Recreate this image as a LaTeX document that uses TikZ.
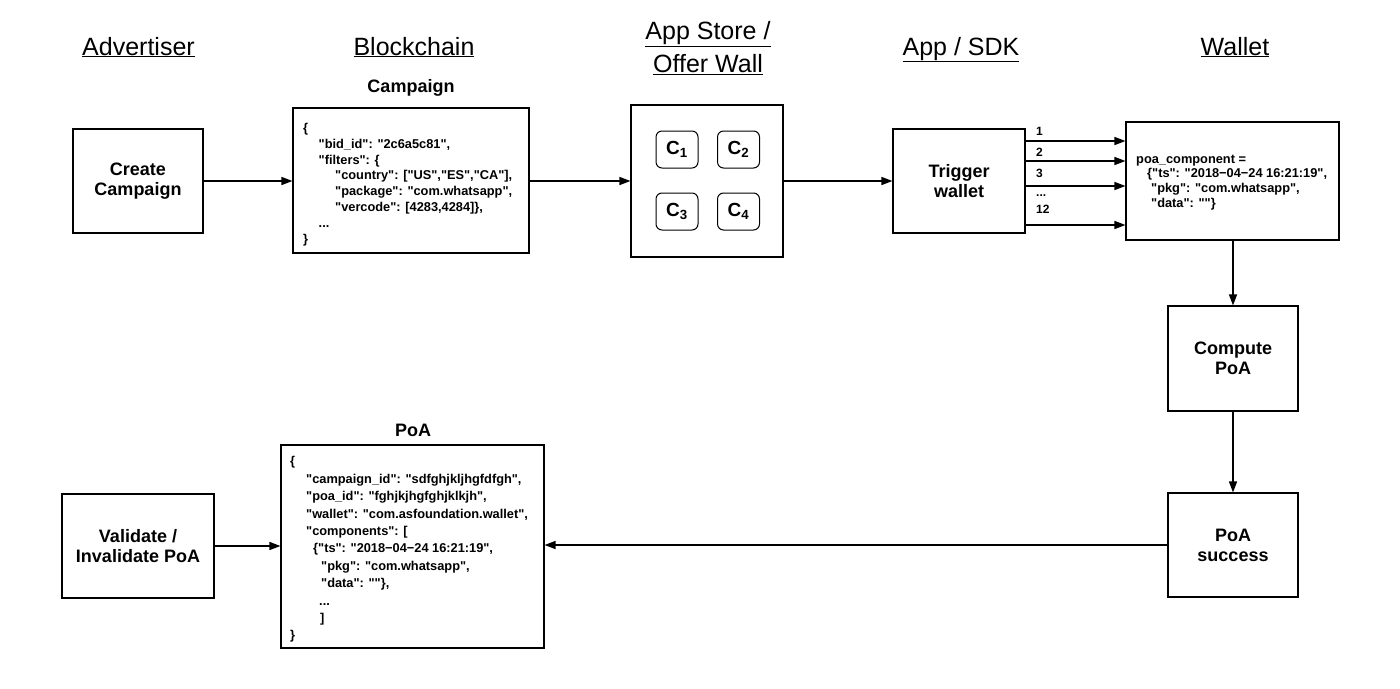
\documentclass[tikz,border=0pt]{standalone}
\usepackage{fontspec}
\setmainfont{Liberation Sans}
\newfontfamily\codefont{Liberation Sans}
\usetikzlibrary{arrows.meta,calc}
\begin{document}
\begin{tikzpicture}[x=1pt,y=-1pt,
  box/.style={draw, line width=1.1pt, fill=white, inner sep=0pt, align=center,
    font=\bfseries\fontsize{18}{20}\selectfont},
  cbox/.style={draw, line width=1pt, rounded corners=6pt, minimum width=42pt,
    minimum height=37pt, inner sep=0pt, font=\bfseries\fontsize{19}{20}\selectfont},
  head/.style={font=\fontsize{25}{33}\selectfont, inner sep=0pt, align=center},
  title/.style={font=\bfseries\fontsize{18}{20}\selectfont, inner sep=0pt},
  code/.style={font=\codefont\bfseries\fontsize{12.8}{15.86}\selectfont, inner sep=0pt, align=left, anchor=west},
  arr/.style={line width=1.4pt, -{Triangle[length=11pt,width=8pt]}},
  lbl/.style={font=\bfseries\fontsize{12}{14}\selectfont, inner sep=0pt, anchor=base west}
]
\fill[white] (0,0) rectangle (1400,688);
\useasboundingbox (0,0) rectangle (1400,688);

% headings
\node[head, anchor=base] (hadv) at (138.5,55) {\underline{Advertiser}};
\node[head, anchor=base] (hblk) at (414,55) {\underline{Blockchain}};
\node[head, anchor=north] (hstore) at (708,21) {\underline{App Store /}\\\underline{Offer Wall}};
\node[head, anchor=base] (hsdk) at (961,55) {\underline{App / SDK}};
\node[head, anchor=base] (hwal) at (1235,55) {\underline{Wallet}};

% titles
\node[title] (tcamp) at (411,88) {Campaign};
\node[title] (tpoa) at (413,430) {PoA};

% boxes
\node[box, minimum width=130pt, minimum height=104pt] (create) at (138,181) {Create\\Campaign};
\node[box, minimum width=236pt, minimum height=145pt] (campaign) at (411,180.5) {};
\node[box, minimum width=152pt, minimum height=152pt] (store) at (707,181) {};
\node[cbox] (c1) at (677,149.5) {C\textsubscript{1}};
\node[cbox] (c2) at (738.5,149.5) {C\textsubscript{2}};
\node[cbox] (c3) at (677,211.5) {C\textsubscript{3}};
\node[cbox] (c4) at (738.5,211.5) {C\textsubscript{4}};
\node[box, minimum width=132pt, minimum height=104pt] (trigger) at (959,181) {Trigger\\wallet};
\node[box, minimum width=213pt, minimum height=118pt] (wallet) at (1232.5,181) {};
\node[box, minimum width=130pt, minimum height=105pt] (compute) at (1233,358.5) {Compute\\PoA};
\node[box, minimum width=130pt, minimum height=104pt] (success) at (1233,545) {PoA\\success};
\node[box, minimum width=263pt, minimum height=203pt] (poabox) at (412.5,546.5) {};
\node[box, minimum width=152pt, minimum height=104pt] (validate) at (138,546) {Validate /\\Invalidate PoA};

% code texts
\node[code] (campcode) at (303,184.5) {\{\\
\hspace*{15.5pt}"bid\_id": "2c6a5c81",\\
\hspace*{15.5pt}"filters": \{\\
\hspace*{32pt}"country": ["US","ES","CA"],\\
\hspace*{32pt}"package": "com.whatsapp",\\
\hspace*{32pt}"vercode": [4283,4284]\},\\
\hspace*{15.5pt}...\\
\}};

\node[code, font=\codefont\bfseries\fontsize{12.8}{14.7}\selectfont] (walcode) at (1136,182.5) {poa\_component =\\
\hspace*{11pt}\{"ts": "2018−04−24 16:21:19",\\
\hspace*{15pt}"pkg": "com.whatsapp",\\
\hspace*{15pt}"data": ""\}};

\node[code, font=\codefont\bfseries\fontsize{12.8}{17.4}\selectfont] (poacode) at (290,549.5) {\{\\
\hspace*{16pt}"campaign\_id": "sdfghjkljhgfdfgh",\\
\hspace*{16pt}"poa\_id": "fghjkjhgfghjklkjh",\\
\hspace*{16pt}"wallet": "com.asfoundation.wallet",\\
\hspace*{16pt}"components": [\\
\hspace*{23pt}\{"ts": "2018−04−24 16:21:19",\\
\hspace*{31pt}"pkg": "com.whatsapp",\\
\hspace*{31pt}"data": ""\},\\
\hspace*{29pt}...\\
\hspace*{30pt}]\\
\}};

% connectors
\draw[arr] (create.east) -- (create.east -| campaign.west);
\draw[arr] (campaign.east |- store.west) -- (store.west);
\draw[arr] (store.east) -- (store.east -| trigger.west);
\draw[arr] ([yshift=40pt]trigger.east) -- ([yshift=40pt]wallet.west);
\draw[arr] ([yshift=20pt]trigger.east) -- ([yshift=20pt]wallet.west);
\draw[arr] ([yshift=-5pt]trigger.east) -- ([yshift=-5pt]wallet.west);
\draw[arr] ([yshift=-44pt]trigger.east) -- ([yshift=-44pt]wallet.west);
\draw[arr] (wallet.south -| compute.north) -- (compute.north);
\draw[arr] (compute.south) -- (success.north);
\draw[arr] (success.west) -- (success.west -| poabox.east);
\draw[arr] (validate.east) -- (validate.east -| poabox.west);

% arrow labels
\node[lbl] (l1) at (1036,135.5) {1};
\node[lbl] (l2) at (1036,156.5) {2};
\node[lbl] (l3) at (1036,177.5) {3};
\node[lbl] (ldots) at (1036,196) {...};
\node[lbl] (l12) at (1036,213.5) {12};
\end{tikzpicture}
\end{document}
